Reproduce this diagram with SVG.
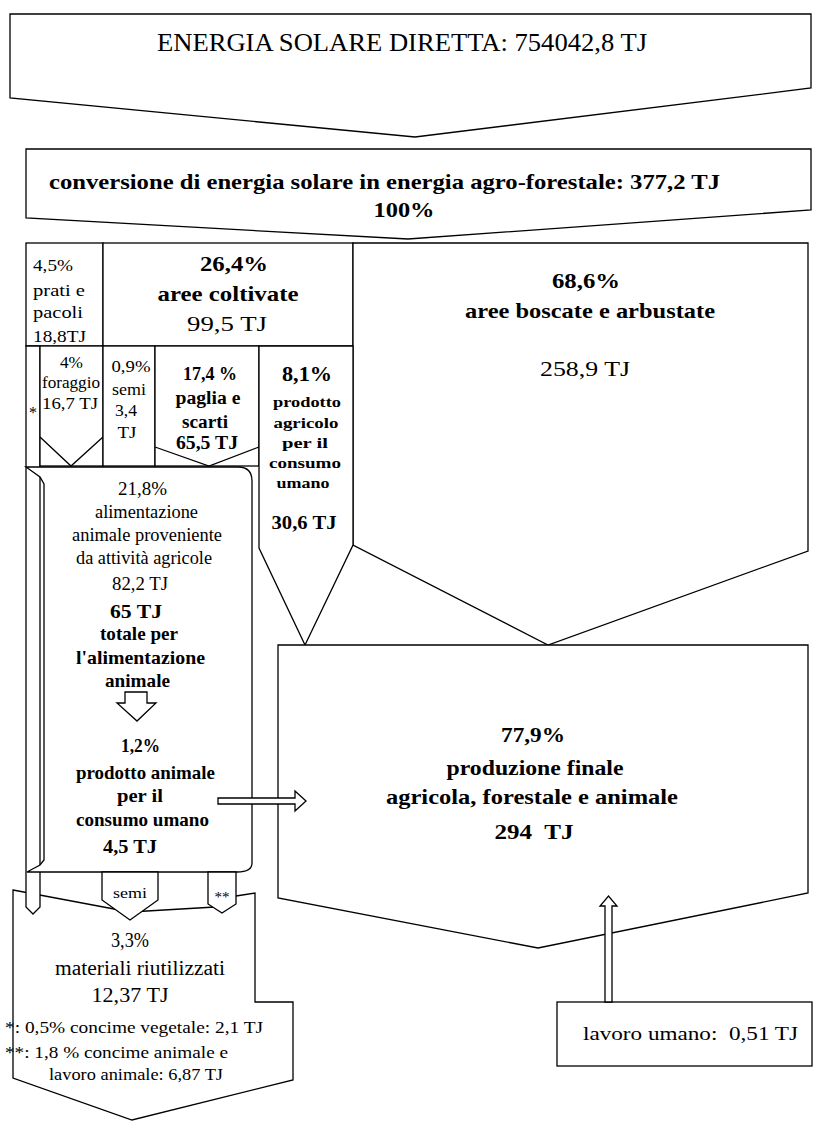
<svg xmlns="http://www.w3.org/2000/svg" width="813" height="1130" viewBox="0 0 813 1130">
<style>
.s{fill:#fff;stroke:#000;stroke-width:1.3;stroke-linejoin:miter}
.l{fill:none;stroke:#000;stroke-width:1.3}
text{font-family:"Liberation Serif","Times New Roman",serif;fill:#000}
.b{font-weight:bold}
.m{text-anchor:middle}
</style>
<rect x="0" y="0" width="813" height="1130" fill="#fff"/>

<g id="n-solar">
<path class="s" d="M10,14 L811,14 L811,88 L415,137 L10,98 Z"/>
<text x="402" y="51" class="m" font-size="25" textLength="490" lengthAdjust="spacingAndGlyphs">ENERGIA SOLARE DIRETTA: 754042,8 TJ</text>
</g>

<g id="n-conversione">
<path class="s" d="M26,149 L811,149 L811,210 L408,239 L26,218 Z"/>
<text x="49" y="189" class="b" font-size="21" textLength="671" lengthAdjust="spacingAndGlyphs">conversione di energia solare in energia agro-forestale: 377,2 TJ</text>
<text x="404" y="217" class="m b" font-size="21" textLength="61" lengthAdjust="spacingAndGlyphs">100%</text>
</g>

<g id="n-prati">
<rect class="s" x="26" y="243" width="77" height="103"/>
<text x="33" y="271" font-size="17" textLength="40" lengthAdjust="spacingAndGlyphs">4,5%</text>
<text x="33" y="296" font-size="17" textLength="52" lengthAdjust="spacingAndGlyphs">prati e</text>
<text x="33" y="318" font-size="17" textLength="50" lengthAdjust="spacingAndGlyphs">pacoli</text>
<text x="33" y="342" font-size="17" textLength="53" lengthAdjust="spacingAndGlyphs">18,8TJ</text>
</g>

<g id="n-coltivate">
<rect class="s" x="103" y="243" width="250" height="103"/>
<text x="234" y="271" class="m b" font-size="22" textLength="68" lengthAdjust="spacingAndGlyphs">26,4%</text>
<text x="228" y="301" class="m b" font-size="22" textLength="141" lengthAdjust="spacingAndGlyphs">aree coltivate</text>
<text x="227" y="331" class="m" font-size="22" textLength="80" lengthAdjust="spacingAndGlyphs">99,5 TJ</text>
</g>

<g id="n-boscate">
<path class="s" d="M353,243 L808,243 L808,551 L548,645 L353,545 Z"/>
<text x="586" y="288" class="m b" font-size="21" textLength="68" lengthAdjust="spacingAndGlyphs">68,6%</text>
<text x="590" y="318" class="m b" font-size="21" textLength="250" lengthAdjust="spacingAndGlyphs">aree boscate e arbustate</text>
<text x="585" y="376" class="m" font-size="22" textLength="90" lengthAdjust="spacingAndGlyphs">258,9 TJ</text>
</g>

<g id="n-materiali">
<path class="s" d="M13,890 L130,912 L215,907 L236,896 L255,893 L255,1002 L293,1002 L293,1080 L132,1120 L13,1078 Z"/>
<text x="130" y="947" class="m" font-size="20" textLength="38" lengthAdjust="spacingAndGlyphs">3,3%</text>
<text x="140" y="975" class="m" font-size="20" textLength="170" lengthAdjust="spacingAndGlyphs">materiali riutilizzati</text>
<text x="130" y="1002" class="m" font-size="20" textLength="77" lengthAdjust="spacingAndGlyphs">12,37 TJ</text>
<text x="5" y="1033" font-size="16" textLength="258" lengthAdjust="spacingAndGlyphs">*: 0,5% concime vegetale: 2,1 TJ</text>
<text x="5" y="1058" font-size="16" textLength="223" lengthAdjust="spacingAndGlyphs">**: 1,8 % concime animale e</text>
<text x="49" y="1080" font-size="16" textLength="174" lengthAdjust="spacingAndGlyphs">lavoro animale: 6,87 TJ</text>
</g>

<g id="n-concime-vegetale">
<path class="s" d="M26,346 L40,346 L40,907 L33,914 L26,907 Z"/>
<text x="33" y="418" class="m" font-size="16">*</text>
</g>

<g id="n-foraggio">
<rect class="s" x="40" y="346" width="63" height="120"/>
<polyline class="l" points="40,437 71,466 103,437"/>
<text x="71.5" y="368" class="m" font-size="17" textLength="23" lengthAdjust="spacingAndGlyphs">4%</text>
<text x="71" y="388" class="m" font-size="17" textLength="58" lengthAdjust="spacingAndGlyphs">foraggio</text>
<text x="70" y="409" class="m" font-size="17" textLength="56" lengthAdjust="spacingAndGlyphs">16,7 TJ</text>
</g>

<g id="n-semi">
<rect class="s" x="103" y="346" width="52" height="120"/>
<text x="131" y="372" class="m" font-size="17" textLength="39" lengthAdjust="spacingAndGlyphs">0,9%</text>
<text x="129" y="395" class="m" font-size="17" textLength="34" lengthAdjust="spacingAndGlyphs">semi</text>
<text x="126" y="416" class="m" font-size="17" textLength="22" lengthAdjust="spacingAndGlyphs">3,4</text>
<text x="127" y="438" class="m" font-size="17" textLength="19" lengthAdjust="spacingAndGlyphs">TJ</text>
</g>

<g id="n-paglia">
<rect class="s" x="155" y="346" width="104" height="120"/>
<polyline class="l" points="155,447 209,466 259,447"/>
<text x="210" y="380" class="m b" font-size="18" textLength="54" lengthAdjust="spacingAndGlyphs">17,4 %</text>
<text x="208" y="404" class="m b" font-size="18" textLength="65" lengthAdjust="spacingAndGlyphs">paglia e</text>
<text x="205" y="428" class="m b" font-size="18" textLength="46" lengthAdjust="spacingAndGlyphs">scarti</text>
<text x="207" y="449" class="m b" font-size="18" textLength="62" lengthAdjust="spacingAndGlyphs">65,5 TJ</text>
</g>

<g id="n-prodotto-agricolo">
<path class="s" d="M259,346 L353,346 L353,545 L305,645 L259,548 Z"/>
<text x="307" y="381" class="m b" font-size="20" textLength="50" lengthAdjust="spacingAndGlyphs">8,1%</text>
<text x="307" y="407" class="m b" font-size="15" textLength="68" lengthAdjust="spacingAndGlyphs">prodotto</text>
<text x="306" y="428" class="m b" font-size="15" textLength="65" lengthAdjust="spacingAndGlyphs">agricolo</text>
<text x="305" y="448" class="m b" font-size="15" textLength="46" lengthAdjust="spacingAndGlyphs">per il</text>
<text x="305" y="468" class="m b" font-size="15" textLength="72" lengthAdjust="spacingAndGlyphs">consumo</text>
<text x="303" y="488" class="m b" font-size="15" textLength="53" lengthAdjust="spacingAndGlyphs">umano</text>
<text x="304" y="529" class="m b" font-size="19" textLength="65" lengthAdjust="spacingAndGlyphs">30,6 TJ</text>
</g>

<g id="n-alimentazione">
<path class="s" d="M26,467 L238,467 Q252,467 252,481 L252,863 Q252,872 237,872 L27,872 L40,865 L44,860 L44,484 L40,477 Z"/>
<text x="142.5" y="495" class="m" font-size="18" textLength="49" lengthAdjust="spacingAndGlyphs">21,8%</text>
<text x="146.5" y="518" class="m" font-size="18" textLength="103" lengthAdjust="spacingAndGlyphs">alimentazione</text>
<text x="147" y="541" class="m" font-size="18" textLength="150" lengthAdjust="spacingAndGlyphs">animale proveniente</text>
<text x="144" y="564" class="m" font-size="18" textLength="136" lengthAdjust="spacingAndGlyphs">da attività agricole</text>
<text x="140" y="590" class="m" font-size="18" textLength="56" lengthAdjust="spacingAndGlyphs">82,2 TJ</text>
<text x="136" y="618" class="m b" font-size="19" textLength="52" lengthAdjust="spacingAndGlyphs">65 TJ</text>
<text x="139" y="640" class="m b" font-size="19" textLength="78" lengthAdjust="spacingAndGlyphs">totale per</text>
<text x="140.5" y="664" class="m b" font-size="19" textLength="129" lengthAdjust="spacingAndGlyphs">l'alimentazione</text>
<text x="137.5" y="687" class="m b" font-size="19" textLength="65" lengthAdjust="spacingAndGlyphs">animale</text>
<path class="s" d="M125,692 L147,692 L147,703 L156,703 L137,721 L117,703 L125,703 Z"/>
<text x="140.5" y="752" class="m b" font-size="19" textLength="39" lengthAdjust="spacingAndGlyphs">1,2%</text>
<text x="145.5" y="779" class="m b" font-size="19" textLength="139" lengthAdjust="spacingAndGlyphs">prodotto animale</text>
<text x="140" y="802" class="m b" font-size="19" textLength="46" lengthAdjust="spacingAndGlyphs">per il</text>
<text x="142.5" y="826" class="m b" font-size="19" textLength="133" lengthAdjust="spacingAndGlyphs">consumo umano</text>
<text x="130" y="853" class="m b" font-size="19" textLength="54" lengthAdjust="spacingAndGlyphs">4,5 TJ</text>
</g>

<g id="n-produzione">
<path class="s" d="M278,645 L808,645 L808,893 L538,948 L278,898 Z"/>
<text x="533" y="742" class="m b" font-size="20" textLength="64" lengthAdjust="spacingAndGlyphs">77,9%</text>
<text x="535" y="775" class="m b" font-size="21" textLength="177" lengthAdjust="spacingAndGlyphs">produzione finale</text>
<text x="532" y="804" class="m b" font-size="21" textLength="292" lengthAdjust="spacingAndGlyphs">agricola, forestale e animale</text>
<text x="534" y="839" class="m b" font-size="21" textLength="79" lengthAdjust="spacingAndGlyphs" xml:space="preserve">294  TJ</text>
</g>

<g id="n-lavoro">
<rect class="s" x="557" y="1002" width="255" height="64"/>
<text x="583" y="1040" font-size="19" textLength="215" lengthAdjust="spacingAndGlyphs" xml:space="preserve">lavoro umano:  0,51 TJ</text>
</g>

<g id="connectors">
<path class="s" d="M102,872 L158,872 L158,900 L130,920 L102,900 Z"/>
<text x="130" y="898" class="m" font-size="15" textLength="34" lengthAdjust="spacingAndGlyphs">semi</text>
<path class="s" d="M208,872 L236,872 L236,904 L222,913 L208,904 Z"/>
<text x="222" y="902" class="m" font-size="15">**</text>
<path class="s" d="M218,798 L295,798 L295,791 L306,801 L295,811 L295,804 L218,804 Z"/>
<path class="s" d="M605,1002 L605,906 L600,906 L608.5,896 L617,906 L612,906 L612,1002 Z"/>
</g>
</svg>
